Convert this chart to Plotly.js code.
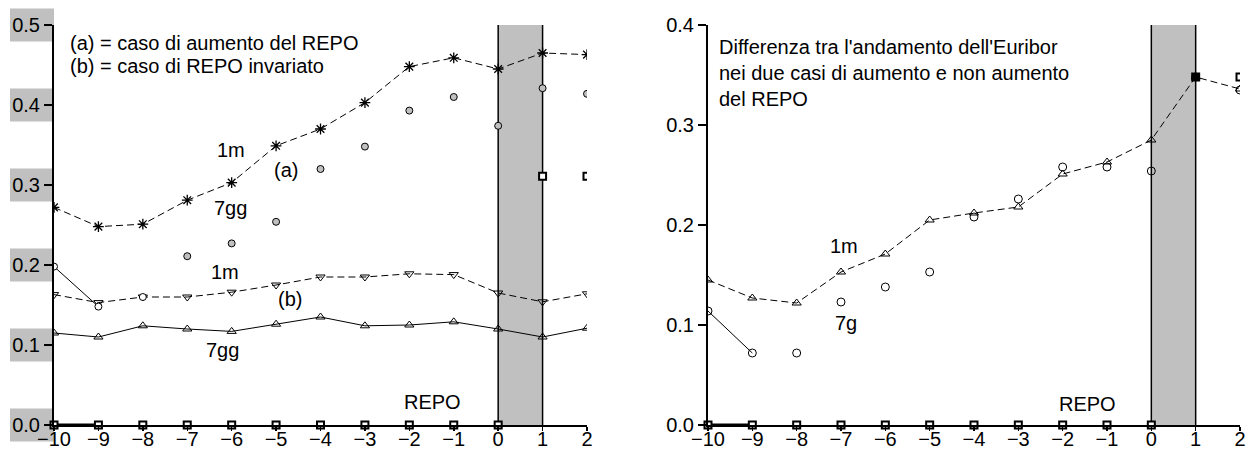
<!DOCTYPE html>
<html>
<head>
<meta charset="utf-8">
<script src="https://cdn.plot.ly/plotly-3.0.1.min.js"></script>
<style>html,body{margin:0;padding:0;background:#fff}#chart{width:1252px;height:455px}</style>
</head>
<body>
<div id="chart"></div>
<script>
// ---- data ----
const periods = [-10, -9, -8, -7, -6, -5, -4, -3, -2, -1, 0, 1, 2];

// left panel: (a) = REPO increase, (b) = REPO unchanged
const caseA_1m  = [0.272, 0.248, 0.251, 0.281, 0.303, 0.349, 0.370, 0.403, 0.448, 0.459, 0.445, 0.465, 0.463];
const caseA_7gg = [0.198, 0.148, 0.160, 0.211, 0.227, 0.254, 0.320, 0.348, 0.393, 0.410, 0.374, 0.421, 0.414];
const caseB_1m  = [0.163, 0.153, 0.160, 0.160, 0.166, 0.175, 0.185, 0.185, 0.189, 0.188, 0.165, 0.154, 0.164];
const caseB_7gg = [0.115, 0.110, 0.124, 0.120, 0.117, 0.126, 0.135, 0.124, 0.125, 0.129, 0.120, 0.110, 0.121];
const repoLeft  = [0, 0, 0, 0, 0, 0, 0, 0, 0, 0, 0, 0.311, 0.311];

// right panel: difference between the two cases
const diff_1m   = [0.145, 0.127, 0.122, 0.153, 0.171, 0.205, 0.212, 0.218, 0.251, 0.263, 0.285, 0.348, 0.336];
const diff_7g   = [0.114, 0.072, 0.072, 0.123, 0.138, 0.153, 0.208, 0.226, 0.258, 0.258, 0.254, 0.348, 0.335];
const repoRight = [0, 0, 0, 0, 0, 0, 0, 0, 0, 0, 0, 0.348, 0.348];

const leftTicks  = [0.0, 0.1, 0.2, 0.3, 0.4, 0.5];
const rightTicks = [0.0, 0.1, 0.2, 0.3, 0.4];
const bandStart = 0, bandEnd = 1;

// ---- styling ----
const FONT = 'Liberation Sans, Arial, sans-serif';
const FS = 20;
const W = 1252;
const dashed = {color: 'black', width: 1, dash: '7px,4px'};
const solid = {color: 'black', width: 1};

function traces(xa, ya, s1m, s7, repo, opts) {
  const t = [];
  // 7-day first segment (solid line)
  t.push({x: periods.slice(0, 2), y: s7.slice(0, 2), xaxis: xa, yaxis: ya, mode: 'lines', line: solid, hoverinfo: 'skip'});
  // 1m dashed with markers
  t.push({x: periods, y: s1m, xaxis: xa, yaxis: ya, mode: 'lines+markers', line: dashed, marker: opts.m1});
  // 7-day markers
  t.push({x: periods, y: s7, xaxis: xa, yaxis: ya, mode: 'markers', marker: opts.m7});
  // REPO
  t.push({x: periods.slice(0, 2), y: repo.slice(0, 2), xaxis: xa, yaxis: ya, mode: 'lines',
          line: {color: 'black', width: 3}, hoverinfo: 'skip', cliponaxis: false});
  const zi = periods.map((p, i) => i).filter(i => repo[i] === 0);
  const ni = periods.map((p, i) => i).filter(i => repo[i] !== 0);
  t.push({x: zi.map(i => periods[i]), y: zi.map(i => repo[i]), xaxis: xa, yaxis: ya, mode: 'markers', cliponaxis: false,
          marker: {symbol: 'square', size: 7, color: 'white', line: {color: 'black', width: 2}}});
  t.push({x: ni.map(i => periods[i]), y: ni.map(i => repo[i]), xaxis: xa, yaxis: ya, mode: 'markers', cliponaxis: true,
          marker: {symbol: 'square', size: 7, color: ni.map(i => opts.repoFill(periods[i])), line: {color: 'black', width: 2}}});
  return t;
}

const data = [];
// left panel: case (b) lines
data.push({x: periods, y: caseB_1m, xaxis: 'x', yaxis: 'y', mode: 'lines+markers', line: dashed,
           marker: {symbol: 'triangle-down-open', size: 8, color: 'black', line: {width: 1}}});
data.push({x: periods, y: caseB_7gg, xaxis: 'x', yaxis: 'y', mode: 'lines+markers', line: solid,
           marker: {symbol: 'triangle-up-open', size: 8, color: 'black', line: {width: 1}}});
data.push(...traces('x', 'y', caseA_1m, caseA_7gg, repoLeft, {
  m1: {symbol: 'asterisk-open', size: 9, color: 'black', line: {color: 'black', width: 1.3}},
  m7: {symbol: 'circle', size: 7, color: periods.map((p, i) => i < 3 ? 'white' : '#c0c0c0'), line: {color: 'black', width: 1}},
  repoFill: p => 'white'
}));
// right panel
data.push(...traces('x2', 'y2', diff_1m, diff_7g, repoRight, {
  m1: {symbol: 'triangle-up-open', size: 8, color: 'black', line: {width: 1}},
  m7: {symbol: 'circle-open', size: 8, color: 'black', line: {width: 1}},
  repoFill: p => p === 1 ? 'black' : 'white'
}));

function xAxis(d0, d1, anchor) {
  return {domain: [d0 / W, d1 / W], anchor: anchor, range: [-10, 2], tick0: -10, dtick: 1,
          ticks: 'outside', ticklen: 4, tickwidth: 1.5, tickcolor: 'black', ticklabelstandoff: -9,
          showline: true, linecolor: 'black', linewidth: 1.5, showgrid: false, zeroline: false,
          tickfont: {family: FONT, size: FS, color: 'black'}, fixedrange: true};
}
function yAxis(maxV, anchor) {
  return {domain: [0, 1], anchor: anchor, range: [0, maxV], tick0: 0, dtick: 0.1, tickformat: '.1f',
          ticks: 'outside', ticklen: 8, tickwidth: 1.5, tickcolor: 'black',
          showline: true, linecolor: 'black', linewidth: 2, showgrid: false, zeroline: false,
          tickfont: {family: FONT, size: FS, color: 'black'}, fixedrange: true};
}

const shapes = [];
function band(xr, yr, top) {
  shapes.push({type: 'rect', xref: xr, yref: yr, x0: bandStart, x1: bandEnd, y0: 0, y1: top,
               fillcolor: '#c0c0c0', line: {width: 0}, layer: 'below'});
  [bandStart, bandEnd].forEach(v => shapes.push({type: 'line', xref: xr, yref: yr, x0: v, x1: v, y0: 0, y1: top,
               line: {color: 'black', width: 1.5}, layer: 'below'}));
}
band('x', 'y', 0.5);
band('x2', 'y2', 0.4);
// grey boxes behind left tick labels
leftTicks.forEach(v => shapes.push({type: 'rect', xref: 'paper', yref: 'paper',
  x0: 10 / W, x1: 54 / W, y0: v / 0.5 - 16.5 / 400, y1: v / 0.5 + 16.5 / 400,
  fillcolor: '#c0c0c0', line: {width: 0}, layer: 'below'}));

function ann(xr, yr, x, y, text, xanchor, extra) {
  return Object.assign({xref: xr, yref: yr, x: x, y: y, text: text, showarrow: false,
    xanchor: xanchor || 'center', yanchor: 'middle', font: {family: FONT, size: FS, color: 'black'}}, extra || {});
}
const annotations = [
  ann('x', 'y', -9.685, 0.4775, '(a) = caso di aumento del REPO', 'left'),
  ann('x', 'y', -9.685, 0.4485, '(b) = caso di REPO invariato', 'left'),
  ann('x', 'y', -6.02, 0.344, '1m'),
  ann('x', 'y', -4.77, 0.319, '(a)'),
  ann('x', 'y', -6.03, 0.271, '7gg'),
  ann('x', 'y', -6.16, 0.191, '1m'),
  ann('x', 'y', -4.69, 0.1575, '(b)'),
  ann('x', 'y', -6.2, 0.094, '7gg'),
  ann('x', 'y', -1.47, 0.029, 'REPO'),
  ann('x2', 'y2', -9.8, 0.352, "Differenza tra l'andamento dell'Euribor<br>nei due casi di aumento e non aumento<br>del REPO", 'left', {align: 'left'}),
  ann('x2', 'y2', -6.94, 0.179, '1m'),
  ann('x2', 'y2', -6.88, 0.102, '7g'),
  ann('x2', 'y2', -1.45, 0.021, 'REPO')
];

const layout = {
  width: 1252, height: 455,
  margin: {l: 0, r: 0, t: 25, b: 30},
  paper_bgcolor: 'white', plot_bgcolor: 'rgba(0,0,0,0)',
  showlegend: false,
  font: {family: FONT, size: FS, color: 'black'},
  xaxis: xAxis(54, 587, 'y'),
  yaxis: yAxis(0.5, 'x'),
  xaxis2: xAxis(708, 1240, 'y2'),
  yaxis2: yAxis(0.4, 'x2'),
  shapes: shapes,
  annotations: annotations
};

Plotly.newPlot('chart', data, layout, {displayModeBar: false, staticPlot: true});
</script>
</body>
</html>
